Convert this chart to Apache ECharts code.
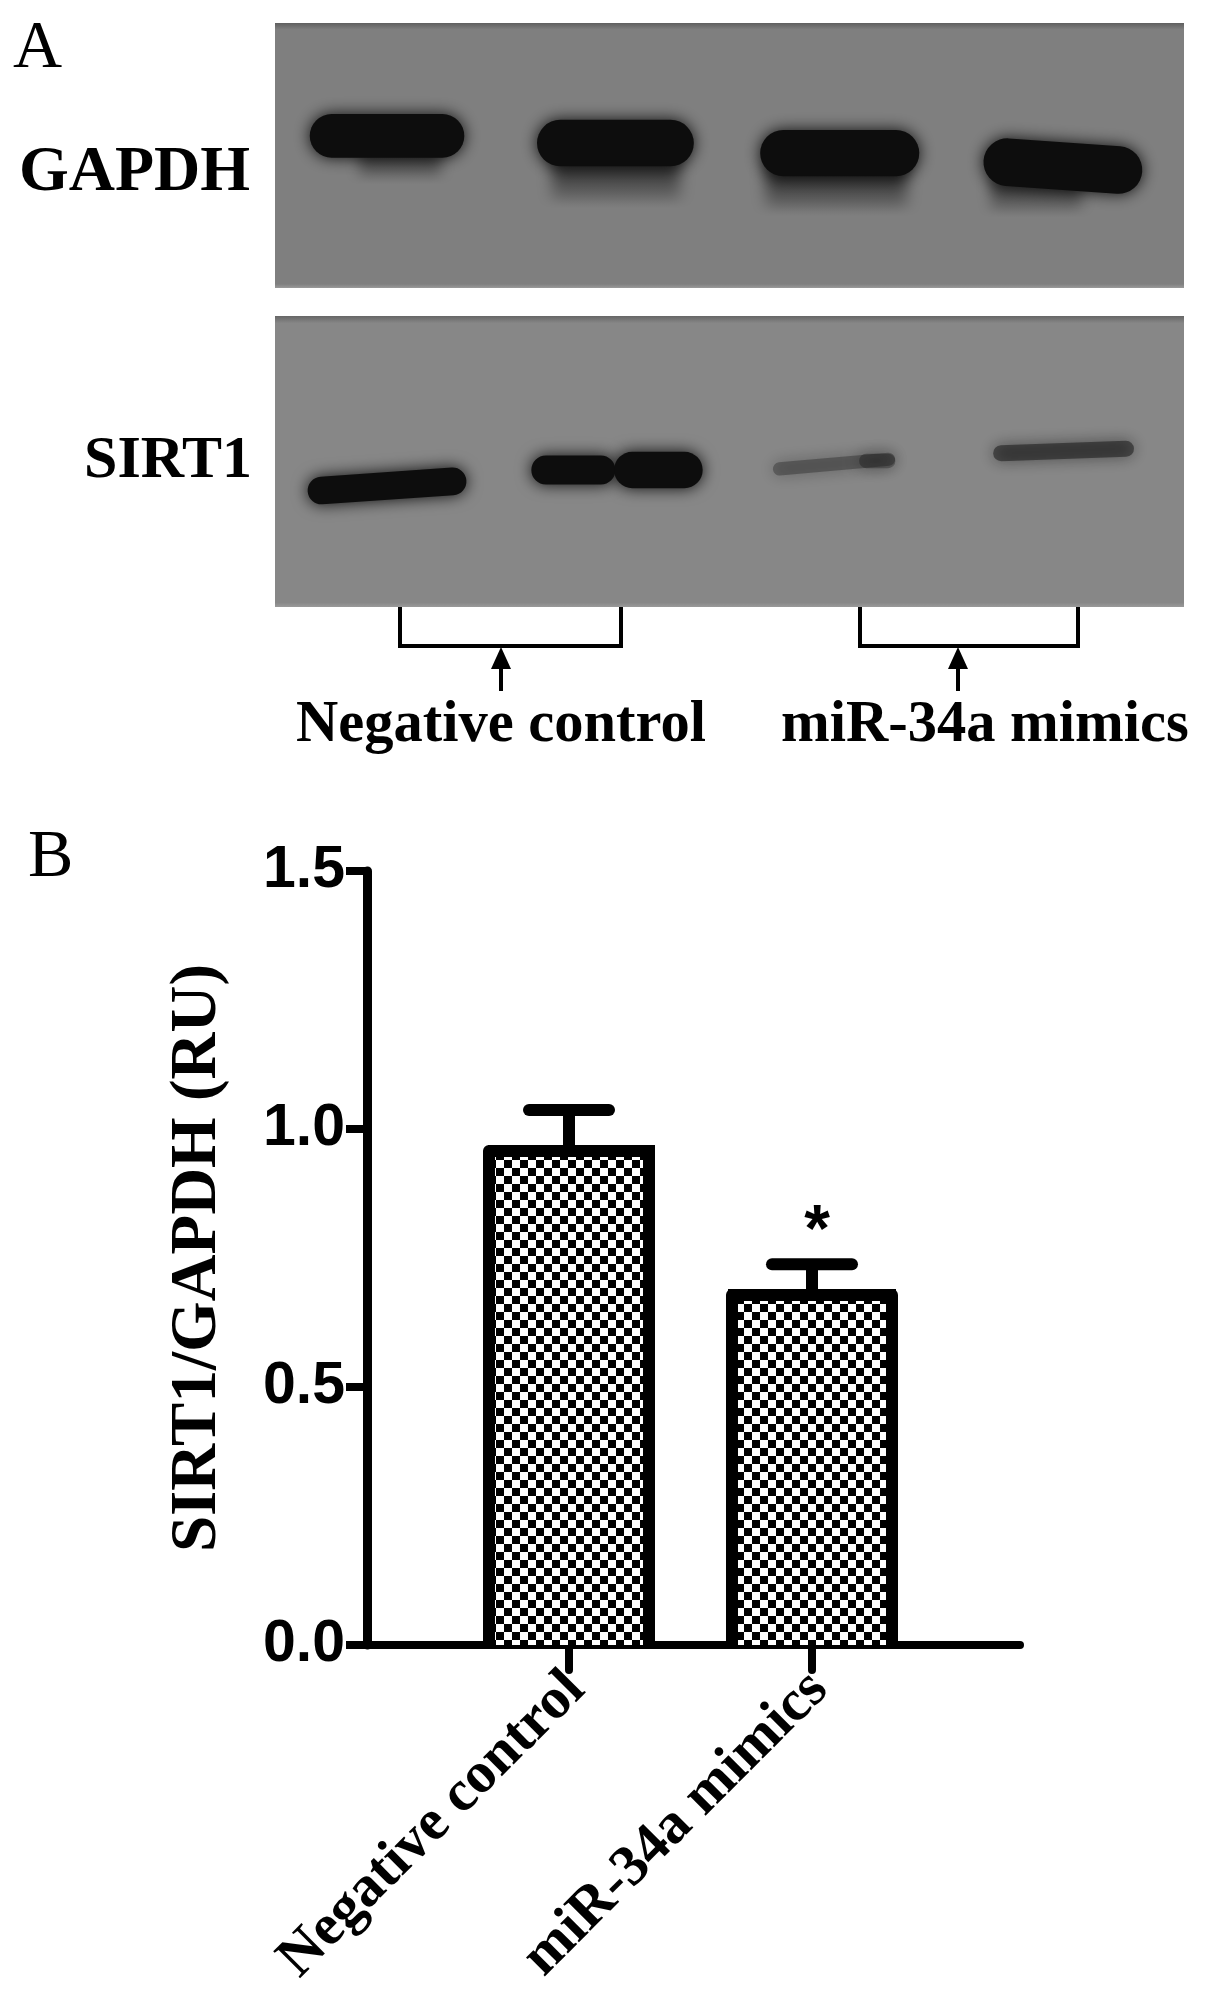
<!DOCTYPE html>
<html>
<head>
<meta charset="utf-8">
<style>
  html, body { margin: 0; background: #fff; }
  #chart { width: 1205px; height: 2002px; }
</style>
<script src="https://cdn.jsdelivr.net/npm/echarts@6/dist/echarts.min.js"></script>
</head>
<body>
<div id="chart"></div>
<script>
// panel B
const categories = ['Negative control', 'miR-34a mimics'];
const ratioValues = [0.969, 0.69];
const ratioUpper = [1.037, 0.738];
const significance = ['', '*'];
const yTicks = [0, 0.5, 1, 1.5];

// panel A, one row per band: lane, migration %, breadth (lanes), thickness %, density, tilt deg
const gapdhSmears = [
  [1.05, 54, 0.36, 14, 0.8, 0],
  [2.0, 60, 0.56, 20, 0.95, 0],
  [2.97, 63, 0.62, 20, 1, 0],
  [3.85, 66, 0.4, 15, 0.8, 0]
];
const gapdhBands = [
  [0.993, 42.6, 0.68, 16.5, 1, 0],
  [1.998, 45.3, 0.69, 17.5, 1, 0],
  [2.985, 49.1, 0.7, 17.5, 1, 0],
  [3.967, 54, 0.7, 18, 1, -4]
];
const sirt1Bands = [
  [0.993, 58.4, 0.7, 9.5, 1, 4],
  [1.813, 52.9, 0.37, 10, 1, 0],
  [2.187, 52.9, 0.39, 12.5, 1, 0],
  [2.96, 50.9, 0.54, 4.5, 0.3, 5],
  [3.15, 49.8, 0.16, 5, 0.3, 0],
  [3.97, 46.4, 0.62, 5.5, 0.48, 2]
];

const serif = '"Liberation Serif"';
const sans = '"Liberation Sans"';

function checkerPattern() {
  const c = document.createElement('canvas');
  c.width = c.height = 16;
  const ctx = c.getContext('2d');
  ctx.fillStyle = '#fff';
  ctx.fillRect(0, 0, 16, 16);
  ctx.fillStyle = '#000';
  ctx.fillRect(0, 0, 8, 8);
  ctx.fillRect(8, 8, 8, 8);
  return c;
}

function panelFill(base, edge) {
  return new echarts.graphic.LinearGradient(0, 0, 0, 1, [
    { offset: 0, color: edge },
    { offset: 0.025, color: base },
    { offset: 0.985, color: base },
    { offset: 1, color: '#9a9a9a' }
  ]);
}

function renderBand(params, api) {
  const c = api.coord([api.value(0), api.value(1)]);
  const s = api.size([api.value(2), api.value(3)]);
  return {
    type: 'rect',
    shape: { x: c[0] - s[0] / 2, y: c[1] - s[1] / 2, width: s[0], height: s[1], r: s[1] / 2 },
    rotation: api.value(5) * Math.PI / 180,
    originX: c[0],
    originY: c[1],
    style: { fill: '#0d0d0d', opacity: api.value(4), shadowBlur: 16, shadowColor: '#0d0d0d' }
  };
}

// smear under a band fades downwards; only its shadow lands on the panel, so the edges stay soft
function renderSmear(params, api) {
  const c = api.coord([api.value(0), api.value(1)]);
  const s = api.size([api.value(2), api.value(3)]);
  const away = 3000;
  return {
    type: 'rect',
    shape: { x: c[0] - s[0] / 2 - away, y: c[1] - s[1] / 2, width: s[0], height: s[1] },
    style: {
      fill: new echarts.graphic.LinearGradient(0, 0, 0, 1, [
        { offset: 0, color: `rgba(0,0,0,${api.value(4)})` },
        { offset: 1, color: 'rgba(0,0,0,0)' }
      ]),
      shadowBlur: 14,
      shadowColor: 'rgba(20,20,20,1)',
      shadowOffsetX: away
    }
  };
}

// bar outline (left, top, right) plus error bar and star
function renderError(params, api) {
  const i = params.dataIndex;
  const top = api.coord([api.value(0), api.value(2)]);
  const base = api.coord([api.value(0), api.value(1)]);
  const zero = api.coord([api.value(0), 0]);
  const half = 80;
  const children = [
    {
      type: 'polyline',
      shape: { points: [[base[0] - half, zero[1]], [base[0] - half, base[1] + 6], [base[0] + half, base[1] + 6], [base[0] + half, zero[1]]] },
      style: { stroke: '#000', lineWidth: 12, lineJoin: 'round', fill: 'none' }
    },
    { type: 'line', shape: { x1: top[0], y1: top[1], x2: base[0], y2: base[1] + 6 }, style: { stroke: '#000', lineWidth: 12 } },
    { type: 'line', shape: { x1: top[0] - 40, y1: top[1], x2: top[0] + 40, y2: top[1] }, style: { stroke: '#000', lineWidth: 12, lineCap: 'round' } }
  ];
  if (significance[i]) {
    children.push({
      type: 'text',
      x: top[0] + 5,
      y: top[1] - 31,
      style: { text: significance[i], font: 'bold 66px ' + sans, fill: '#000', align: 'center', verticalAlign: 'middle' }
    });
  }
  return { type: 'group', children };
}

const hiddenX = i => ({ gridIndex: i, type: 'value', min: 0.5, max: 4.5, show: false });
const hiddenY = i => ({ gridIndex: i, type: 'value', min: 0, max: 100, inverse: true, show: false });

function blotSeries(i, rows, renderItem) {
  return { type: 'custom', xAxisIndex: i, yAxisIndex: i, clip: true, renderItem, data: rows, silent: true };
}

const label = (text, x, y, size, weight, align) => ({
  type: 'text',
  x, y,
  style: { text, font: `${weight} ${size}px ${serif}`, fill: '#000', align: align || 'left' }
});
const stroke = (points, width) => ({
  type: 'polyline',
  shape: { points },
  style: { stroke: '#000', lineWidth: width, fill: 'none' }
});
const arrowHead = (x, tip) => ({
  type: 'polygon',
  shape: { points: [[x, tip], [x - 10, tip + 22], [x + 10, tip + 22]] },
  style: { fill: '#000' }
});

const option = {
  backgroundColor: '#fff',
  animation: false,
  grid: [
    { left: 275, top: 23, width: 909, height: 265, show: true, borderWidth: 0, backgroundColor: panelFill('#7f7f7f', '#5f5f5f') },
    { left: 275, top: 316, width: 909, height: 291, show: true, borderWidth: 0, backgroundColor: panelFill('#878787', '#666666') },
    { left: 367, top: 871, right: 185, bottom: 357 }
  ],
  xAxis: [
    hiddenX(0),
    hiddenX(1),
    {
      gridIndex: 2,
      type: 'value',
      min: 0.1687,
      max: 2.856,
      splitLine: { show: false },
      axisLine: { onZero: false, lineStyle: { color: '#000', width: 8 } },
      axisTick: { length: 25, customValues: [1, 2], lineStyle: { color: '#000', width: 8, cap: 'round' } },
      axisLabel: {
        customValues: [1, 2],
        formatter: v => categories[v - 1],
        rotate: 45,
        margin: 43,
        padding: [0, -10, 0, 0],
        color: '#000',
        fontFamily: serif,
        fontWeight: 'bold',
        fontSize: 58
      }
    }
  ],
  yAxis: [
    hiddenY(0),
    hiddenY(1),
    {
      gridIndex: 2,
      type: 'value',
      min: 0,
      max: 1.5,
      interval: 0.5,
      name: 'SIRT1/GAPDH (RU)',
      nameLocation: 'middle',
      nameGap: 169,
      nameRotate: 90,
      nameTextStyle: { color: '#000', fontFamily: serif, fontWeight: 'bold', fontSize: 65, verticalAlign: 'middle' },
      splitLine: { show: false },
      axisLine: { show: true, lineStyle: { color: '#000', width: 9 } },
      axisTick: { show: true, length: 21, lineStyle: { color: '#000', width: 8 } },
      axisLabel: {
        margin: 22,
        color: '#000',
        fontFamily: sans,
        fontWeight: 'bold',
        fontSize: 59,
        formatter: v => v.toFixed(1),
        customValues: yTicks
      }
    }
  ],
  series: [
    blotSeries(0, gapdhSmears, renderSmear),
    blotSeries(0, gapdhBands, renderBand),
    blotSeries(1, sirt1Bands, renderBand),
    {
      type: 'bar',
      xAxisIndex: 2,
      yAxisIndex: 2,
      barWidth: 172,
      data: ratioValues.map((v, i) => [i + 1, v]),
      itemStyle: {
        color: { image: checkerPattern(), repeat: 'repeat' }
      },
      silent: true
    },
    {
      type: 'custom',
      xAxisIndex: 2,
      yAxisIndex: 2,
      clip: false,
      renderItem: renderError,
      data: ratioValues.map((v, i) => [i + 1, v, ratioUpper[i]]),
      silent: true,
      z: 3
    }
  ],
  graphic: [
    label('A', 13, 15, 68, 'normal'),
    label('B', 28, 824, 68, 'normal'),
    label('GAPDH', 250, 141, 64, 'bold', 'right'),
    label('SIRT1', 252, 431, 60, 'bold', 'right'),
    label('Negative control', 296, 696, 58.5, 'bold'),
    label('miR-34a mimics', 781, 696, 58.5, 'bold'),
    stroke([[400, 607], [400, 646], [621, 646], [621, 607]], 4),
    stroke([[860, 607], [860, 646], [1078, 646], [1078, 607]], 4),
    stroke([[501, 660], [501, 691]], 4),
    stroke([[958, 660], [958, 691]], 4),
    arrowHead(501, 647),
    arrowHead(958, 647)
  ]
};

const chart = echarts.init(document.getElementById('chart'));
chart.setOption(option);
</script>
</body>
</html>
